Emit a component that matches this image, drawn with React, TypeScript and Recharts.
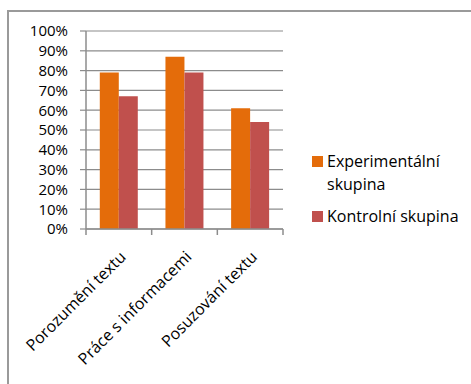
import React from 'react';
import { BarChart, Bar, CartesianGrid, XAxis, YAxis, Legend } from 'recharts';

const categories = ['Porozumění textu', 'Práce s informacemi', 'Posuzování textu'];
const experimental = [79, 87, 61];
const control = [67, 79, 54];
const yTicks = [0, 10, 20, 30, 40, 50, 60, 70, 80, 90, 100];

const seriesNames = ['Experimentální skupina', 'Kontrolní skupina'];
const seriesColors = ['#E46C0A', '#C0504D'];

const data = categories.map((name, i) => ({
  name,
  exp: experimental[i],
  ctrl: control[i],
}));

const FONT = '"Open Sans", sans-serif';
const FONT_SIZE = 16;
const AXIS = '#8c8c8c';

// Category axis: tick marks sit on the band edges, labels turned 45 degrees.
const CategoryTick = (props: any) => {
  const { x, y, payload, index, visibleTicksCount } = props;
  const half = payload.offset || 0;
  const last = index === visibleTicksCount - 1;
  const tx = x + 8;
  const ty = y + 21;
  return (
    <g>
      <line x1={x - half} x2={x - half} y1={y - 8} y2={y - 2} stroke={AXIS} strokeWidth={1.5} />
      {last && (
        <line x1={x + half} x2={x + half} y1={y - 8} y2={y - 2} stroke={AXIS} strokeWidth={1.5} />
      )}
      <text
        x={tx}
        y={ty}
        transform={`rotate(-45, ${tx}, ${ty})`}
        textAnchor="end"
        fontFamily={FONT}
        fontSize={FONT_SIZE}
        fill="#000"
      >
        {payload.value}
      </text>
    </g>
  );
};

const LegendBox = () => (
  <div
    style={{
      width: 180,
      paddingLeft: 29,
      paddingBottom: 6,
      boxSizing: 'border-box',
      fontFamily: FONT,
      fontSize: FONT_SIZE,
      color: '#000',
    }}
  >
    {seriesNames.map((n, i) => (
      <div key={n} style={{ display: 'flex', alignItems: 'flex-start', marginBottom: i === 0 ? 9 : 0 }}>
        <span
          style={{
            width: 11,
            height: 11,
            background: seriesColors[i],
            marginTop: 6,
            marginRight: 4,
            flex: '0 0 auto',
          }}
        />
        <span style={{ lineHeight: '23px', width: 136, whiteSpace: i === 1 ? 'nowrap' : 'normal' }}>{n}</span>
      </div>
    ))}
  </div>
);

export default function App() {
  return (
    <div style={{ position: 'absolute', left: 0, top: 0, width: 471, height: 384, overflow: 'hidden', background: '#fff' }}>
      <div
        style={{
          position: 'absolute',
          left: 7,
          top: 10,
          width: 500,
          height: 400,
          borderLeft: '2px solid #9a9a9a',
          borderTop: '2px solid #9a9a9a',
        }}
      />
      <BarChart
        width={471}
        height={384}
        data={data}
        margin={{ top: 31, right: 8, bottom: 55, left: 0 }}
        barCategoryGap="21%"
        barGap={0}
        style={{ position: 'absolute', left: 0, top: 0 }}
      >
        <CartesianGrid vertical={false} stroke={AXIS} strokeWidth={1.2} />
        <XAxis
          dataKey="name"
          height={100}
          interval={0}
          tickLine={false}
          axisLine={{ stroke: AXIS, strokeWidth: 1.5 }}
          tick={<CategoryTick />}
        />
        <YAxis
          width={86}
          domain={[0, 100]}
          ticks={yTicks}
          interval={0}
          tickFormatter={(v: number) => `${v}%`}
          tickSize={6}
          tickMargin={12}
          tickLine={{ stroke: AXIS, strokeWidth: 1.2 }}
          axisLine={{ stroke: AXIS, strokeWidth: 1.5 }}
          tick={{ fill: '#000', fontFamily: FONT, fontSize: 15 }}
        />
        <Legend layout="vertical" align="right" verticalAlign="middle" content={<LegendBox />} />
        <Bar dataKey="exp" name={seriesNames[0]} fill={seriesColors[0]} isAnimationActive={false} />
        <Bar dataKey="ctrl" name={seriesNames[1]} fill={seriesColors[1]} isAnimationActive={false} />
      </BarChart>
    </div>
  );
}
